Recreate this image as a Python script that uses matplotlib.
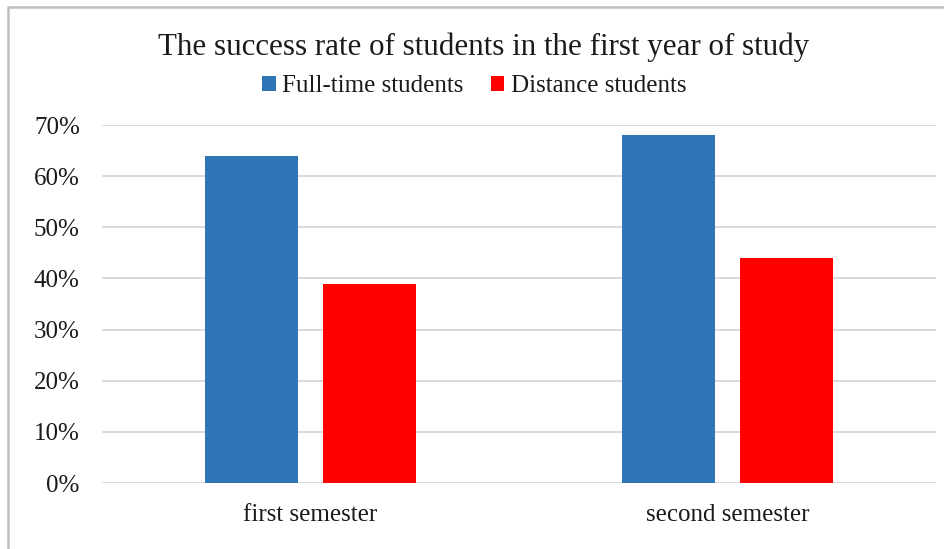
import matplotlib.pyplot as plt
import numpy as np
from matplotlib.patches import Rectangle
from matplotlib.ticker import PercentFormatter

plt.rcParams['font.family'] = ['Liberation Serif', 'DejaVu Serif']

# data
categories = ['first semester', 'second semester']
series_names = ['Full-time students', 'Distance students']
full_time = [64, 68]
distance = [39, 44]
colors = ['#2E75B6', '#FF0000']

fig = plt.figure(figsize=(9.44, 5.49), dpi=100)
ax = fig.add_axes([102 / 944, 1 - 483 / 549, 834 / 944, 358 / 549])

x = np.arange(len(categories))
width = 0.222
offset = 0.1415
ax.bar(x - offset, full_time, width, color=colors[0], label=series_names[0], zorder=3)
ax.bar(x + offset, distance, width, color=colors[1], label=series_names[1], zorder=3)

ax.set_xlim(-0.5, 1.5)
ax.set_ylim(0, 70)
ax.set_yticks(range(0, 71, 10))
ax.yaxis.set_major_formatter(PercentFormatter(decimals=0))
ax.set_xticks(x)
ax.set_xticklabels(categories)
ax.tick_params(axis='both', length=0, labelsize=18, colors='#1a1a1a')
ax.tick_params(axis='y', pad=16)
ax.tick_params(axis='x', pad=15)
ax.grid(axis='y', color='#D9D9D9', linewidth=1.4, zorder=0)
for s in ax.spines.values():
    s.set_visible(False)

fig.text(484 / 944, 1 - 47 / 549, 'The success rate of students in the first year of study',
         ha='center', va='center', fontsize=22.3, color='#1a1a1a')
leg = fig.legend(loc='center', bbox_to_anchor=(474 / 944, 1 - 86 / 549), ncol=2, frameon=False,
                 fontsize=18, handlelength=0.55, handleheight=0.55, handletextpad=0.25,
                 columnspacing=1.1)
for t in leg.get_texts():
    t.set_color('#1a1a1a')

# outer chart border
fig.patches.append(Rectangle((8 / 944, -0.05), 1.1, 1 - 7 / 549 + 0.05,
                             transform=fig.transFigure, fill=False,
                             edgecolor='#BFBFBF', linewidth=1.8))

fig.savefig('out.png', dpi=100)
